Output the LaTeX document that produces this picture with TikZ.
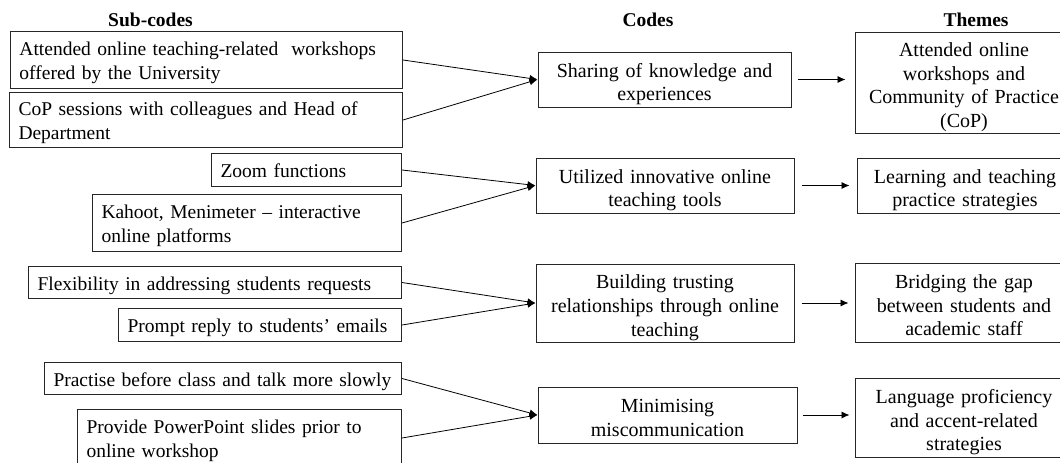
\documentclass[tikz,border=0pt]{standalone}
\usepackage{fontspec}
\setmainfont{Liberation Serif}
\usetikzlibrary{arrows.meta}

\tikzset{
  sub/.style={draw=black!85, line width=1pt, anchor=north west, align=left, inner xsep=9pt, inner ysep=0pt,
    execute at begin node={\rule{0pt}{20pt}}, execute at end node={\rule[-5pt]{0pt}{5pt}}, font=\fontsize{19.5}{24.5}\selectfont},
  code/.style={draw=black!85, line width=1pt, align=center, inner sep=0pt,
    execute at begin node={\rule{0pt}{24pt}}, execute at end node={\rule[-5pt]{0pt}{5pt}}, font=\fontsize{20}{23.8}\selectfont},
  head/.style={font=\fontsize{19.5}{22}\selectfont\bfseries},
  link/.style={line width=0.8pt}
}

\begin{document}
\begin{tikzpicture}[x=1pt, y=-1pt, >={Latex[length=8pt,width=7pt]}]
			\useasboundingbox (0,0) rectangle (1060,463);

			% column headings
			\node	(hsub) at (150.5,20) [head] {Sub-codes};
			\node	(hcode) at (648,20) [head] {Codes};
			\node	(htheme) at (976,20) [head] {Themes};

			% sub-codes
			\node	(s1) at (10,31) [sub, text width=374pt, minimum height=57pt] {Attended online teaching-related~ workshops\\offered by the University};
			\node	(s2) at (9,92) [sub, text width=375pt, minimum height=55pt] {CoP sessions with colleagues and Head of\\Department};
			\node	(s3) at (211,153) [sub, text width=172pt, minimum height=33pt] {Zoom functions};
			\node	(s4) at (92,194) [sub, text width=291pt, minimum height=57pt] {Kahoot, Menimeter -- interactive\\online platforms};
			\node	(s5) at (28,266) [sub, text width=355pt, minimum height=32pt] {Flexibility in addressing students requests};
			\node	(s6) at (118,308) [sub, text width=265pt, minimum height=33pt] {Prompt reply to students' emails};
			\node	(s7) at (44,362) [sub, text width=339pt, minimum height=32pt] {Practise before class and talk more slowly};
			\node	(s8) at (77,409) [sub, text width=306pt, minimum height=57pt] {Provide PowerPoint slides prior to\\online workshop};

			% codes
			\node	(c1) at (664.5,79.5) [code, text width=253pt, minimum height=55pt] {Sharing of knowledge and\\experiences};
			\node	(c2) at (665,185.5) [code, text width=258pt, minimum height=55pt] {Utilized innovative online\\teaching tools};
			\node	(c3) at (665,303) [code, text width=258pt, minimum height=78pt] {Building trusting\\relationships through online\\teaching};
			\node	(c4) at (667.5,415) [code, text width=259pt, minimum height=56pt] {Minimising\\miscommunication};

			% themes
			\node	(t1) at (964,82.5) [code, text width=218pt, minimum height=101pt] {Attended online\\workshops and\\Community of Practice\\(CoP)};
			\node	(t2) at (965,185.5) [code, text width=216pt, minimum height=55pt] {Learning and teaching\\practice strategies};
			\node	(t3) at (964,302.5) [code, text width=218pt, minimum height=79pt] {Bridging the gap\\between students and\\academic staff};
			\node	(t4) at (964,417.5) [code, text width=218pt, minimum height=79pt] {Language proficiency\\and accent-related\\strategies};

			\draw[link]
			(s1.east) edge[->] (c1.west)
			(s2.east) edge[->] (c1.west)
			(s3.east) edge[->] (c2.west)
			(s4.east) edge[->] (c2.west)
			(s5.east) edge[->] (c3.west)
			(s6.east) edge[->] (c3.west)
			(s7.east) edge[->] (c4.west)
			(s8.east) edge[->] (c4.west)
			;

			\draw[link]
			(c1.east) edge[->, shorten <=6pt, shorten >=9pt] (c1.east -| t1.west)
			(c2.east) edge[->, shorten <=7pt, shorten >=7pt] (c2.east -| t2.west)
			(c3.east) edge[->, shorten <=7pt, shorten >=6pt] (c3.east -| t3.west)
			(c4.east) edge[->, shorten <=5pt, shorten >=5pt] (c4.east -| t4.west)
			;
		\end{tikzpicture}
\end{document}
